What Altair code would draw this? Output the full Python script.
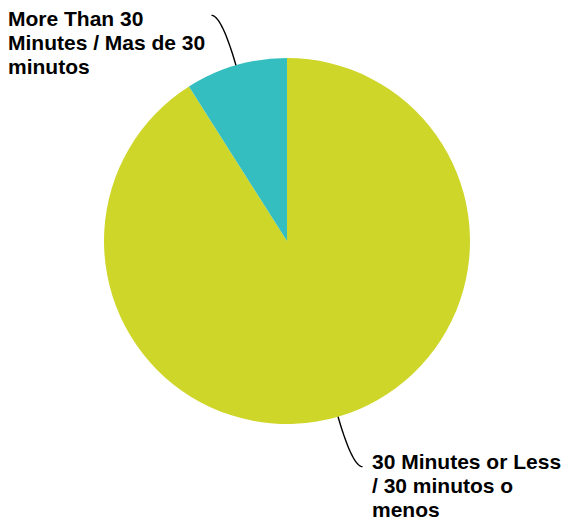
import altair as alt
import pandas as pd
import numpy as np

# ---- data ----
categories = ["30 Minutes or Less / 30 minutos o menos",
              "More Than 30 Minutes / Mas de 30 minutos"]
values = [91, 9]
label_lines = [["30 Minutes or Less", "/ 30 minutos o", "menos"],
               ["More Than 30", "Minutes / Mas de 30", "minutos"]]
colors = ["#CFD62A", "#34BEBF"]

# ---- layout (view coordinates, page = view + 8px) ----
W, H = 556, 515
CX, CY, R = 279, 233, 183
LEAD = 52          # radial length of leader line beyond the arc
HOOK = 10          # horizontal hook at the end of the leader
label_x = [364, 0]
label_y = [461, 18]

df = pd.DataFrame({"category": categories, "value": values,
                   "order": list(range(len(values)))})

pie = alt.Chart(df).mark_arc(outerRadius=R).encode(
    theta=alt.Theta("value:Q", stack=True),
    color=alt.Color("category:N",
                    scale=alt.Scale(domain=categories, range=colors),
                    legend=None),
    order=alt.Order("order:Q"),
    x=alt.value(CX),
    y=alt.value(CY),
)

# leader lines derived from the slice mid-angles
total = float(sum(values))
rows = []
cum = 0.0
for i, v in enumerate(values):
    a = (cum + v / 2.0) / total * 2 * np.pi
    cum += v
    sx, sy = CX + R * np.sin(a), CY - R * np.cos(a)
    cx_, cy_ = CX + (R + LEAD) * np.sin(a), CY - (R + LEAD) * np.cos(a)
    ex = cx_ + (HOOK if np.sin(a) >= 0 else -HOOK)
    ey = cy_
    for t in np.linspace(0, 1, 25):
        bx = (1 - t) ** 2 * sx + 2 * (1 - t) * t * cx_ + t ** 2 * ex
        by = (1 - t) ** 2 * sy + 2 * (1 - t) * t * cy_ + t ** 2 * ey
        rows.append({"cat": categories[i], "t": t, "px": bx, "py": by})
lead_df = pd.DataFrame(rows)

leaders = alt.Chart(lead_df).mark_line(color="black", strokeWidth=1.4).encode(
    x=alt.X("px:Q", scale=None),
    y=alt.Y("py:Q", scale=None),
    detail="cat:N",
    order="t:Q",
)

lab_df = pd.DataFrame({"text": ["\n".join(l) for l in label_lines],
                       "lx": label_x, "ly": label_y})
labels = alt.Chart(lab_df).mark_text(
    align="left", baseline="alphabetic", font="Liberation Sans",
    fontWeight="bold", fontSize=21, lineHeight=24, lineBreak="\n",
    color="black",
).encode(
    x=alt.X("lx:Q", scale=None),
    y=alt.Y("ly:Q", scale=None),
    text="text:N",
)

chart = alt.layer(pie, leaders, labels).properties(
    width=W, height=H,
    autosize=alt.AutoSizeParams(type="none"),
    padding=0,
).configure_view(stroke=None)

chart.save("out.html", embed_options={"renderer": "svg", "actions": False})
